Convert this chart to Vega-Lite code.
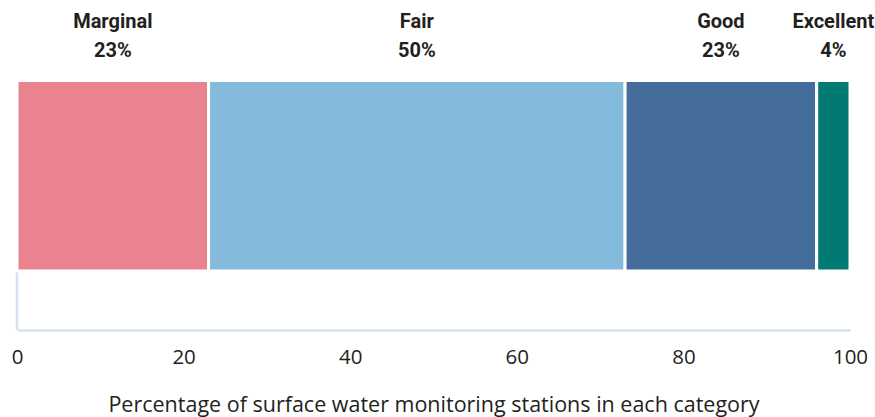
{
  "$schema": "https://vega.github.io/schema/vega-lite/v6.json",
  "width": 833,
  "height": 248,
  "padding": {"left": 17, "top": 82, "right": 25, "bottom": 87},
  "autosize": {"type": "none"},
  "background": "white",
  "config": {"view": {"stroke": null}},
  "data": {
    "values": [
      {"category": "Marginal", "value": 23, "label": "23%", "order": 1},
      {"category": "Fair", "value": 50, "label": "50%", "order": 2},
      {"category": "Good", "value": 23, "label": "23%", "order": 3},
      {"category": "Excellent", "value": 4, "label": "4%", "order": 4}
    ]
  },
  "transform": [
    {"stack": "value", "groupby": [], "sort": [{"field": "order"}], "as": ["x0", "x1"]},
    {"calculate": "(datum.x0 + datum.x1) / 2", "as": "mid"}
  ],
  "layer": [
    {
      "mark": {"type": "bar", "stroke": "white", "strokeWidth": 3},
      "encoding": {
        "x": {
          "field": "x0", "type": "quantitative",
          "scale": {"domain": [0, 100], "nice": false},
          "axis": {
            "values": [0, 20, 40, 60, 80, 100],
            "ticks": false, "tickSize": 0, "grid": false,
            "domainColor": "#d6e2ef", "domainWidth": 2.5,
            "labelFont": "Open Sans", "labelFontSize": 20.5, "labelColor": "#231f20",
            "labelPadding": 17, "labelFlush": false,
            "title": "Percentage of surface water monitoring stations in each category",
            "titleFont": "Open Sans", "titleFontSize": 21.5, "titleFontWeight": "normal",
            "titleColor": "#231f20", "titlePadding": 27
          }
        },
        "x2": {"field": "x1"},
        "y": {"datum": 1.006, "type": "quantitative", "scale": {"domain": [0, 1]}, "axis": null},
        "y2": {"datum": 0.238},
        "color": {
          "field": "category", "type": "nominal",
          "scale": {"domain": ["Marginal", "Fair", "Good", "Excellent"], "range": ["#e8838f", "#84bbdd", "#456d9b", "#007a73"]},
          "legend": null
        }
      }
    },
    {
      "mark": {"type": "rule", "color": "#d6e2ef", "strokeWidth": 2.5},
      "encoding": {
        "x": {"datum": 0, "type": "quantitative"},
        "y": {"datum": 0.232, "type": "quantitative"},
        "y2": {"datum": 0}
      },
      "data": {"values": [{}]}
    },
    {
      "mark": {"type": "text", "font": "Roboto", "fontWeight": "bold", "fontSize": 20, "color": "#231f20", "baseline": "middle"},
      "encoding": {
        "x": {"field": "mid", "type": "quantitative"},
        "y": {"datum": 1.242, "type": "quantitative"},
        "text": {"field": "category"}
      }
    },
    {
      "mark": {"type": "text", "font": "Roboto", "fontWeight": "bold", "fontSize": 20, "color": "#231f20", "baseline": "middle"},
      "encoding": {
        "x": {"field": "mid", "type": "quantitative"},
        "y": {"datum": 1.123, "type": "quantitative"},
        "text": {"field": "label"}
      }
    }
  ]
}
